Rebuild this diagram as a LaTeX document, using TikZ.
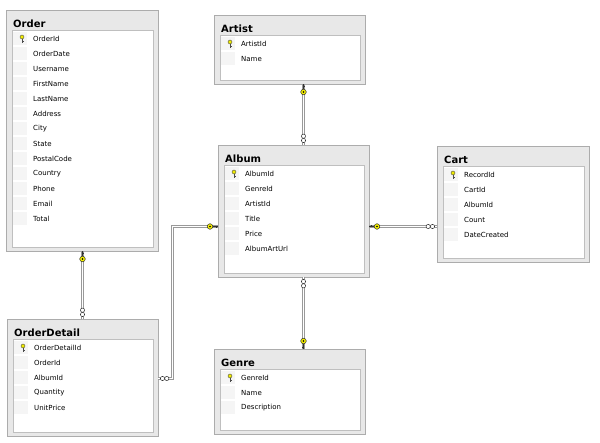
\documentclass[tikz,border=0pt]{standalone}
\usepackage{fontspec}
\setmainfont{DejaVu Sans}
\usetikzlibrary{calc}

\definecolor{keyyellow}{RGB}{240,235,0}
\definecolor{boxgray}{RGB}{232,232,232}

\tikzset{
  tablebox/.style={draw=gray!65, fill=boxgray, line width=.8pt, inner sep=0pt, outer sep=0pt},
  fieldbox/.style={draw=gray!50, fill=white, line width=.7pt, inner sep=0pt, outer sep=0pt},
  tabletitle/.style={font=\bfseries\fontsize{10}{12}\selectfont, inner sep=0pt},
  fieldtext/.style={font=\fontsize{7}{8}\selectfont, inner sep=0pt},
  selcell/.style={fill=gray!8},
  rel/.style={draw=gray!80, double=white, double distance=1pt, line width=1pt},
  keyend/.pic={
    \draw[black!80, line width=.8pt] (3,0) -- (8,0);
    \draw[black!80, line width=.6pt] (6,0) -- (6,1.8);
    \filldraw[fill=keyyellow, draw=black!80, line width=.5pt] (0,0) circle (2.8);
    \fill[black] (0,0) circle (.9);
  },
  manyend/.pic={
    \filldraw[fill=white, draw=black!80, line width=.5pt] (0,0) circle (2.1);
    \filldraw[fill=white, draw=black!80, line width=.5pt] (4.3,0) circle (2.1);
  },
  pkicon/.pic={
    \draw[black!70, line width=.7pt] (0,-1) -- (0,4);
    \draw[black!70, line width=.5pt] (0,2.5) -- (1.5,2.5);
    \filldraw[fill=keyyellow, draw=black!70, line width=.4pt] (0,-2) circle (2);
  }
}

% name, title, x, y, width, height, fields
\newcommand{\erdtable}[7]{%
  \node[tablebox, minimum width=#5pt, minimum height=#6pt, anchor=north west] (#1) at (#3,#4) {};
  \node[tabletitle, anchor=base west] (#1-title) at (#3+7,#4+18) {#2};
  \node[fieldbox, minimum width=#5pt-11pt, minimum height=#6pt-24pt, anchor=north west] (#1-inner) at (#3+6,#4+20) {};
  \foreach \f [count=\i] in {#7} {
    \fill[selcell] (#3+7,#4+22+15*\i-15) rectangle +(14,13);
    \node[fieldtext, anchor=west] (#1-\i) at (#3+27,#4+29+15*\i-15) {\f};
  }
  \pic at (#3+16,#4+29) {pkicon};
}

\begin{document}
\begin{tikzpicture}[x=1pt,y=-1pt]
  \fill[white] (0,0) rectangle (600,443);
  \useasboundingbox (0,0) rectangle (600,443);

  % tables
  \erdtable{order}{Order}{6}{10}{152}{241}{OrderId,OrderDate,Username,FirstName,LastName,Address,City,State,PostalCode,Country,Phone,Email,Total}
  \erdtable{artist}{Artist}{214}{15}{151}{69}{ArtistId,Name}
  \erdtable{album}{Album}{218}{145}{151}{132}{AlbumId,GenreId,ArtistId,Title,Price,AlbumArtUrl}
  \erdtable{cart}{Cart}{437}{146}{152}{116}{RecordId,CartId,AlbumId,Count,DateCreated}
  \erdtable{orderdetail}{OrderDetail}{7}{319}{151}{117}{OrderDetailId,OrderId,AlbumId,Quantity,UnitPrice}
  \erdtable{genre}{Genre}{214}{349}{151}{85}{GenreId,Name,Description}

  % connector points
  \coordinate (artbot) at ($(artist.south west)+(89.5,0)$);
  \coordinate (albtop) at ($(album.north west)+(85.5,0)$);
  \coordinate (albbot) at ($(album.south west)+(85.5,0)$);
  \coordinate (gentop) at ($(genre.north west)+(89.5,0)$);
  \coordinate (albright) at ($(album.north east)+(0,81.5)$);
  \coordinate (cartleft) at ($(cart.north west)+(0,80.5)$);
  \coordinate (albleft) at ($(album.north west)+(0,81.5)$);
  \coordinate (bendtop) at ($(albleft)+(-45.5,0)$);
  \coordinate (detright) at ($(orderdetail.north east)+(0,59.5)$);
  \coordinate (bendbot) at ($(detright)+(14.5,0)$);
  \coordinate (ordbot) at ($(order.south west)+(76.5,0)$);
  \coordinate (dettop) at ($(orderdetail.north west)+(75.5,0)$);

  % relations
  \draw[rel] (artbot) -- (albtop);
  \draw[rel] (albbot) -- (gentop);
  \draw[rel] (albright) -- (cartleft);
  \draw[rel] (ordbot) -- (dettop);
  \draw[rel] (albleft) -- (bendtop) -- (bendbot) -- (detright);

  % ends
  \pic[rotate=90] at (303.5,92) {keyend};
  \pic[rotate=90] at (303.5,140.5) {manyend};
  \pic[rotate=-90] at (303.5,281.5) {manyend};
  \pic[rotate=-90] at (303.5,341) {keyend};
  \pic[rotate=180] at (377,226.5) {keyend};
  \pic[rotate=180] at (432.5,226.5) {manyend};
  \pic[rotate=90] at (82.5,259) {keyend};
  \pic[rotate=90] at (82.5,314.5) {manyend};
  \pic at (210,226.5) {keyend};
  \pic at (162.5,378.5) {manyend};
\end{tikzpicture}
\end{document}
